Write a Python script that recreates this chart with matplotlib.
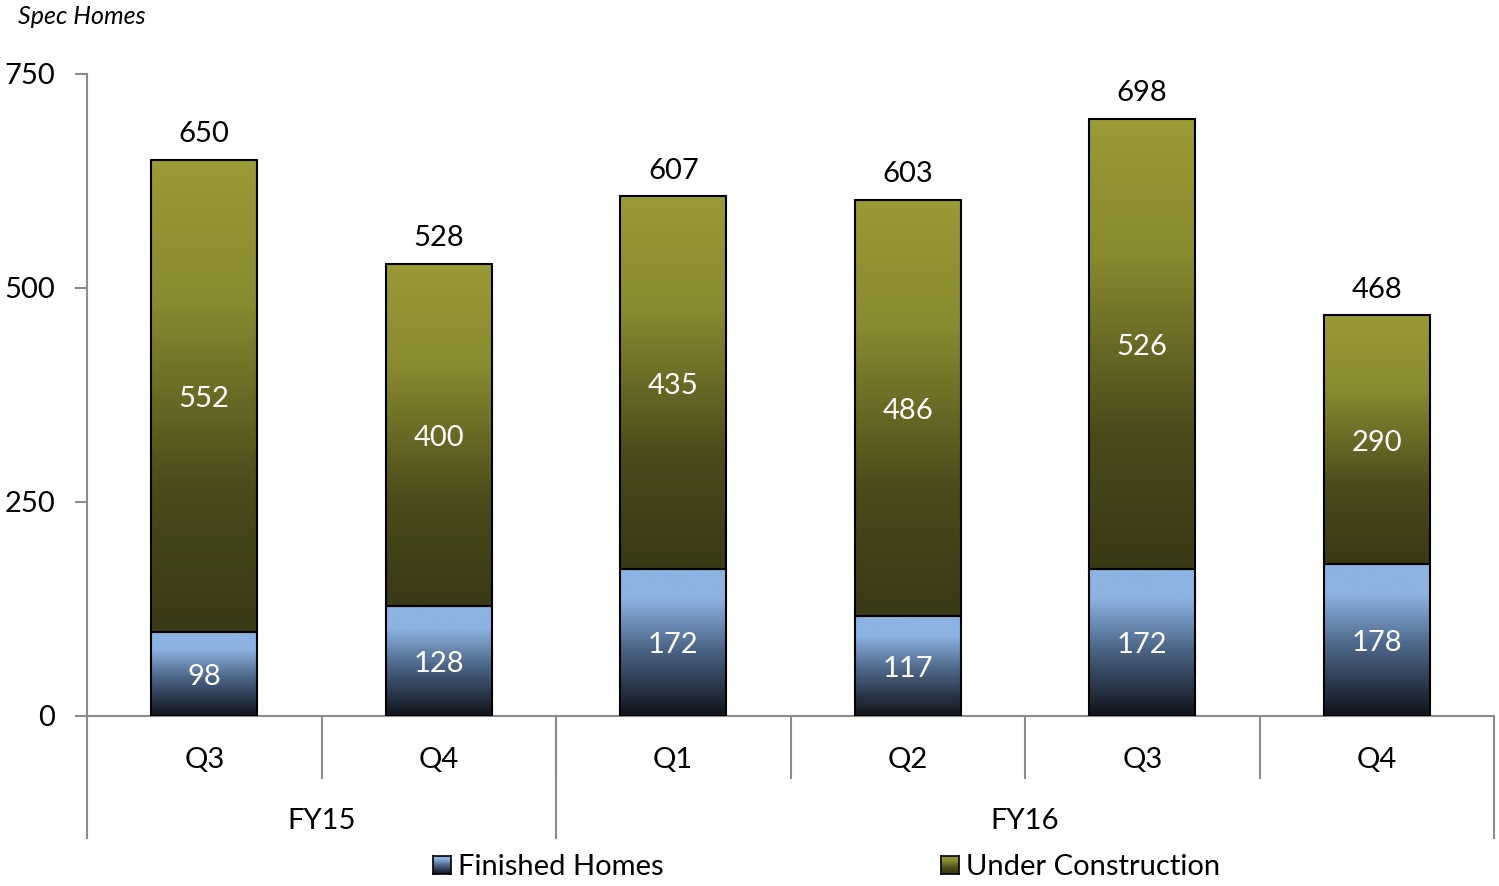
import matplotlib
matplotlib.use("Agg")
import matplotlib.pyplot as plt
import numpy as np
from matplotlib.colors import LinearSegmentedColormap
from matplotlib.patches import Rectangle
import matplotlib.transforms as mtransforms

quarters = ["Q3", "Q4", "Q1", "Q2", "Q3", "Q4"]
years = ["FY15", "FY16"]
year_spans = [(0, 2), (2, 6)]
finished = [98, 128, 172, 117, 172, 178]
under_construction = [552, 400, 435, 486, 526, 290]
totals = [650, 528, 607, 603, 698, 468]

plt.rcParams["font.family"] = ["Lato", "DejaVu Sans"]
FS = 21

blue_cmap = LinearSegmentedColormap.from_list(
    "fin", [(0.0, "#0f131a"), (0.45, "#4b6485"), (0.8, "#8db3e2"), (1.0, "#8db3e2")])
olive_cmap = LinearSegmentedColormap.from_list(
    "uc", [(0.0, "#3a3916"), (0.3, "#4a4a1b"), (0.7, "#8a8a30"), (1.0, "#9a9a37")])

fig = plt.figure(figsize=(14.99, 8.86), dpi=100)
ax = fig.add_axes([87 / 1499, 170 / 886, (1494 - 87) / 1499, 642 / 886])
ax.set_xlim(-0.5, 5.5)
ax.set_ylim(0, 750)

width = 0.45
grad = np.linspace(0, 1, 256).reshape(-1, 1)
# nudge in-bar labels a few pixels down so digits sit optically centred
down = mtransforms.offset_copy(ax.transData, fig=fig, x=0, y=-3, units="dots")


def gradient_bar(x, bottom, height, cmap):
    rect = Rectangle((x - width / 2, bottom), width, height,
                     facecolor="none", edgecolor="black", linewidth=1.5, zorder=3)
    ax.add_patch(rect)
    im = ax.imshow(grad, cmap=cmap, origin="lower", aspect="auto",
                   extent=(x - width / 2, x + width / 2, bottom, bottom + height),
                   zorder=2, interpolation="bicubic")
    im.set_clip_path(rect)


for i in range(len(quarters)):
    gradient_bar(i, 0, finished[i], blue_cmap)
    gradient_bar(i, finished[i], under_construction[i], olive_cmap)
    ax.text(i, finished[i] / 2, str(finished[i]), color="white", transform=down,
            ha="center", va="center", fontsize=FS, zorder=4)
    ax.text(i, finished[i] + under_construction[i] / 2, str(under_construction[i]),
            color="white", ha="center", va="center", fontsize=FS, zorder=4,
            transform=down)
    ax.text(i, totals[i] + 15, str(totals[i]), color="black",
            ha="center", va="bottom", fontsize=FS, zorder=4)

grey = "#8c8c8c"
for s in ["top", "right"]:
    ax.spines[s].set_visible(False)
for s in ["left", "bottom"]:
    ax.spines[s].set_color(grey)
    ax.spines[s].set_linewidth(1.5)

ax.set_yticks([0, 250, 500, 750])
ax.tick_params(axis="y", length=9, width=1.5, color=grey, labelsize=FS, pad=14)
ax.set_xticks([])

# Category axis: quarter and fiscal year bands below the plot
trans = ax.get_xaxis_transform()
q_depth = -62 / 642
y_depth = -122 / 642
for k in range(1, len(quarters)):
    ax.plot([k - 0.5, k - 0.5], [0, q_depth], color=grey, lw=1.5,
            transform=trans, clip_on=False)
for start, end in year_spans:
    for edge in (start - 0.5, end - 0.5):
        ax.plot([edge, edge], [0, y_depth], color=grey, lw=1.5,
                transform=trans, clip_on=False)
for i, q in enumerate(quarters):
    ax.text(i, -44 / 642, q, transform=trans, ha="center", va="center", fontsize=FS)
for (start, end), y in zip(year_spans, years):
    ax.text((start + end - 1) / 2, -105 / 642, y, transform=trans,
            ha="center", va="center", fontsize=FS)

fig.text(18 / 1499, 1 - 17 / 886, "Spec Homes", fontsize=18, style="italic",
         ha="left", va="center")

# Legend with gradient swatches
legend_items = [("Finished Homes", blue_cmap, 433), ("Under Construction", olive_cmap, 941)]
for label, cmap, px in legend_items:
    sw = fig.add_axes([px / 1499, 1 - 874 / 886, 18 / 1499, 18 / 886])
    sw.imshow(grad, cmap=cmap, origin="lower", aspect="auto", extent=(0, 1, 0, 1))
    sw.set_xticks([])
    sw.set_yticks([])
    for s in sw.spines.values():
        s.set_color("black")
        s.set_linewidth(1.2)
    fig.text((px + 25) / 1499, 1 - 867 / 886, label, fontsize=FS,
             ha="left", va="center")

fig.savefig("out.png", dpi=100)
